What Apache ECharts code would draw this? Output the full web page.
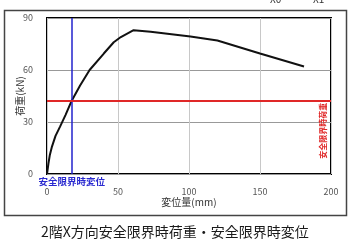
<!DOCTYPE html>
<html><head><meta charset="utf-8">
<script src="https://cdn.jsdelivr.net/npm/echarts@6/dist/echarts.min.js"></script>
<style>html,body{margin:0;padding:0;background:#fff}#c{width:354px;height:248px}</style>
</head><body><div id="c"></div>
<script>
// Load–displacement curve (mm, kN)
const dispValues = [0, 1, 2, 3.5, 6, 9.2, 13, 17.4, 23.3, 30, 40, 47, 52, 61, 73, 101, 120, 150, 181];
const loadValues = [0, 6, 11, 15.8, 22, 27.3, 34, 42.3, 51, 60, 69.5, 76, 79, 83, 82, 79.3, 77, 69.5, 62];
const xTicks = [0, 50, 100, 150, 200];
const yTicks = [0, 30, 60, 90];
const safetyDisp = 17.4;   // 安全限界時変位
const safetyLoad = 42.3;   // 安全限界時荷重
const titleText = '2階X方向安全限界時荷重・安全限界時変位';
const xName = '変位量(mm)';
const yName = '荷重(kN)';
const dispLabel = '安全限界時変位';
const loadLabel = '安全限界時荷重';
const topLabels = ['X0', 'X1'];

const FONT = '"Noto Sans CJK JP", sans-serif';
const chart = echarts.init(document.getElementById('c'), null, {renderer: 'canvas'});
const seriesData = dispValues.map((d, i) => [d, loadValues[i]]);

chart.setOption({
  animation: false,
  backgroundColor: '#fff',
  textStyle: {fontFamily: FONT},
  title: {
    text: titleText, left: 36, top: 220,
    textStyle: {fontSize: 14, fontWeight: 'normal', color: '#1a1a1a', fontFamily: FONT}
  },
  grid: {left: 47, top: 18, right: 23, bottom: 74, show: true, borderColor: '#000', borderWidth: 2, backgroundColor: '#fff'},
  xAxis: {
    type: 'value', min: xTicks[0], max: xTicks[xTicks.length - 1], interval: 50,
    name: xName, nameLocation: 'middle', nameGap: 23, nameMoveOverlap: false,
    nameTextStyle: {fontSize: 10, color: '#333', fontFamily: FONT},
    axisLine: {show: false}, axisTick: {show: false},
    axisLabel: {margin: 13, fontSize: 9, color: '#555', fontFamily: FONT},
    splitLine: {show: true, lineStyle: {color: '#c8c8c8', width: 1}}
  },
  yAxis: {
    type: 'value', min: yTicks[0], max: yTicks[yTicks.length - 1], interval: 30,
    axisLine: {show: false}, axisTick: {show: false},
    axisLabel: {margin: 14, fontSize: 9, color: '#555', fontFamily: FONT},
    splitLine: {show: true, lineStyle: {color: '#999', width: 1}}
  },
  series: [{
    type: 'line', data: seriesData, symbol: 'none', smooth: false,
    lineStyle: {color: '#111', width: 2},
    z: 3,
    markLine: {
      silent: true, symbol: 'none', animation: false,
      data: [
        {xAxis: safetyDisp, lineStyle: {color: '#2222cc', width: 1.5, type: 'solid'},
         label: {show: true, position: 'start', formatter: dispLabel, color: '#2a2ad0', fontSize: 9.5, fontWeight: 'bold', fontFamily: FONT, distance: 3}},
        {yAxis: safetyLoad, lineStyle: {color: '#e02828', width: 2, type: 'solid'},
         label: {show: false}}
      ]
    }
  }]
});

const p = chart.convertToPixel({gridIndex: 0}, [xTicks[xTicks.length - 1], safetyLoad]);
const yMid = chart.convertToPixel({gridIndex: 0}, [xTicks[0], (yTicks[0] + yTicks[yTicks.length - 1]) / 2]);
chart.setOption({
  graphic: [
    {type: 'rect', shape: {x: 4.5, y: 10.5, width: 342, height: 205}, style: {fill: 'none', stroke: '#444', lineWidth: 1.5}, z: -1, silent: true},
    {type: 'text', x: yMid[0] - 27, y: yMid[1], rotation: Math.PI / 2,
     style: {text: yName, fill: '#333', fontSize: 10, fontFamily: FONT, align: 'center', verticalAlign: 'middle'}},
    {type: 'text', x: p[0] - 8.5, y: p[1] + 2, rotation: Math.PI / 2,
     style: {text: loadLabel, fill: '#e02828', fontSize: 8, fontWeight: 'bold', fontFamily: FONT, align: 'right', verticalAlign: 'middle'}, z: 10},
    {type: 'text', x: 270, y: -6, style: {text: topLabels[0], fill: '#333', fontSize: 10, fontFamily: FONT, align: 'left', verticalAlign: 'top'}},
    {type: 'text', x: 313, y: -6, style: {text: topLabels[1], fill: '#333', fontSize: 10, fontFamily: FONT, align: 'left', verticalAlign: 'top'}}
  ]
});
</script>
</body></html>
